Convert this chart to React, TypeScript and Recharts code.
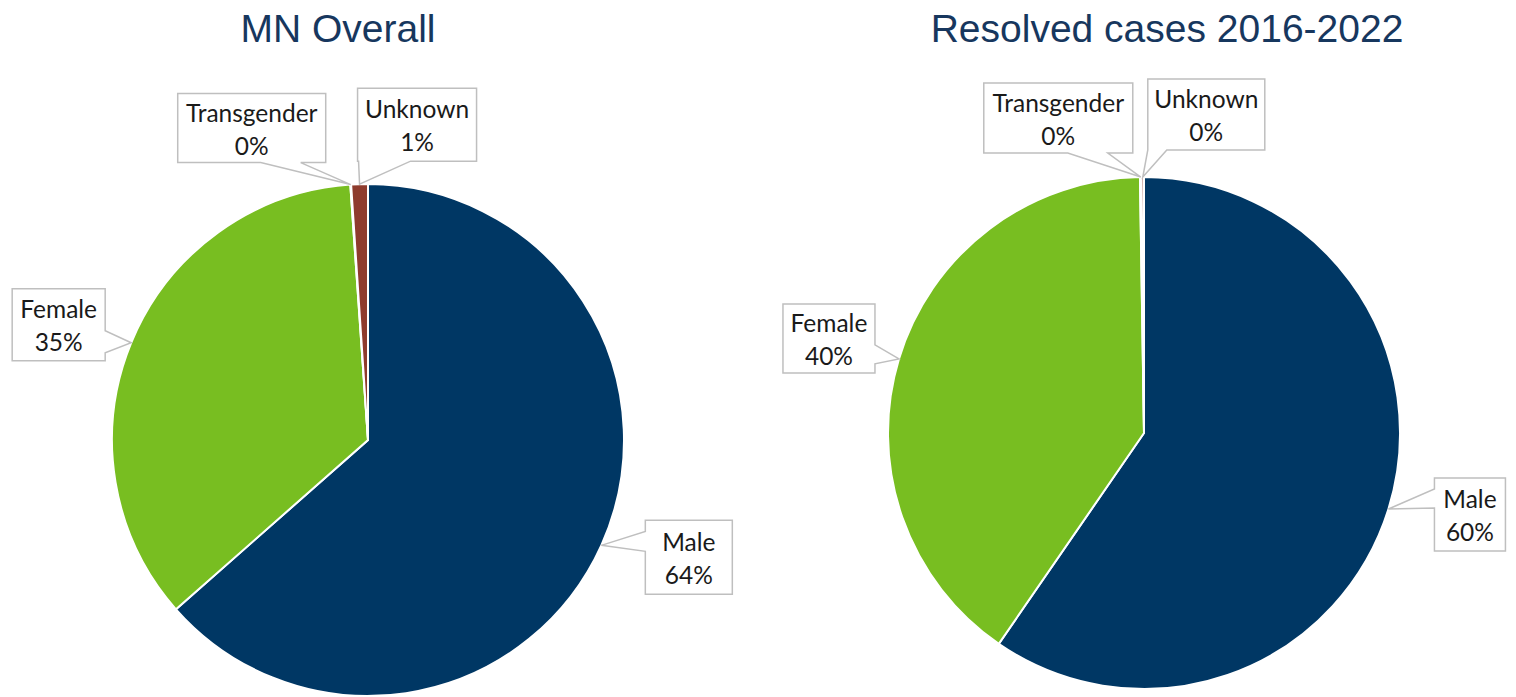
import React from 'react';
import { PieChart, Pie, Cell } from 'recharts';

// ---- data ----
const categories = ['Male', 'Female', 'Transgender', 'Unknown'];
const mnOverallValues = [63.5, 35.4, 0.05, 1.05];
const resolvedValues = [59.6, 40.15, 0.1, 0.15];
const chartTitles = ['MN Overall', 'Resolved cases 2016-2022'];

// ---- styles ----
const sliceColors = ['#003764', '#78BE21', '#8E3B2D', '#8E3B2D'];
const titleColor = '#17375E';
const labelFont = 'Lato, "Open Sans", sans-serif';

type Callout = { dx: number; dy: number; w: number; h: number; side: 'left' | 'right' | 'bottom'; b1: number; b2: number };

// callout box placement relative to the slice's outer mid-point
const leftLayout: Callout[] = [
  { dx: 44, dy: -25, w: 87, h: 74, side: 'left', b1: 11, b2: 31 },
  { dx: -119, dy: -54, w: 93, h: 72, side: 'right', b1: 42, b2: 64 },
  { dx: -173, dy: -91, w: 148, h: 69, side: 'bottom', b1: 83, b2: 123 },
  { dx: -2, dy: -96, w: 119, h: 73, side: 'bottom', b1: 1, b2: 53 },
];
const rightLayout: Callout[] = [
  { dx: 46, dy: -31, w: 71, h: 73, side: 'left', b1: 11, b2: 30 },
  { dx: -116, dy: -55, w: 92, h: 69, side: 'right', b1: 41, b2: 60 },
  { dx: -157, dy: -94, w: 149, h: 70, side: 'bottom', b1: 84, b2: 124 },
  { dx: 5, dy: -98, w: 117, h: 71, side: 'bottom', b1: 0, b2: 19 },
];

const RADIAN = Math.PI / 180;

const toData = (values: number[]) => categories.map((name, i) => ({ name, value: values[i] }));

function makeLabel(layout: Callout[]) {
  return (props: any) => {
    const { cx, cy, midAngle, outerRadius, percent, index, name } = props;
    const tx = cx + outerRadius * Math.cos(-midAngle * RADIAN);
    const ty = cy + outerRadius * Math.sin(-midAngle * RADIAN);
    const L = layout[index];
    const x0 = tx + L.dx;
    const y0 = ty + L.dy;
    const x1 = x0 + L.w;
    const y1 = y0 + L.h;
    let d = `M${x0},${y0} L${x1},${y0} `;
    if (L.side === 'right') d += `L${x1},${y0 + L.b1} L${tx},${ty} L${x1},${y0 + L.b2} `;
    d += `L${x1},${y1} `;
    if (L.side === 'bottom') d += `L${x0 + L.b2},${y1} L${tx},${ty} L${x0 + L.b1},${y1} `;
    d += `L${x0},${y1} `;
    if (L.side === 'left') d += `L${x0},${y0 + L.b2} L${tx},${ty} L${x0},${y0 + L.b1} `;
    d += 'Z';
    const mx = (x0 + x1) / 2;
    const my = (y0 + y1) / 2;
    return (
      <g key={`lbl-${index}`}>
        <path d={d} fill="#ffffff" stroke="#BFBFBF" strokeWidth={1.5} />
        <text x={mx} y={my - 16} textAnchor="middle" dominantBaseline="central" fontFamily={labelFont} fontSize={24.5} fill="#1a1a1a">
          {name}
        </text>
        <text x={mx} y={my + 17} textAnchor="middle" dominantBaseline="central" fontFamily={labelFont} fontSize={24.5} fill="#1a1a1a">
          {`${Math.round(percent * 100)}%`}
        </text>
      </g>
    );
  };
}

export default function App() {
  return (
    <div style={{ position: 'absolute', left: 0, top: 0, width: 1516, height: 697, background: '#fff' }}>
      <PieChart width={1516} height={697} margin={{ top: 0, right: 0, bottom: 0, left: 0 }}>
        <Pie
          data={toData(mnOverallValues)}
          dataKey="value"
          nameKey="name"
          cx={368}
          cy={440}
          outerRadius={256}
          startAngle={90}
          endAngle={-270}
          stroke="#ffffff"
          strokeWidth={2}
          label={makeLabel(leftLayout)}
          labelLine={false}
          isAnimationActive={false}
        >
          {categories.map((c, i) => (
            <Cell key={c} fill={sliceColors[i]} />
          ))}
        </Pie>
        <Pie
          data={toData(resolvedValues)}
          dataKey="value"
          nameKey="name"
          cx={1144}
          cy={433}
          outerRadius={256}
          startAngle={90}
          endAngle={-270}
          stroke="#ffffff"
          strokeWidth={2}
          label={makeLabel(rightLayout)}
          labelLine={false}
          isAnimationActive={false}
        >
          {categories.map((c, i) => (
            <Cell key={c} fill={sliceColors[i]} />
          ))}
        </Pie>
      </PieChart>
      <svg width={1516} height={60} style={{ position: 'absolute', left: 0, top: 0, pointerEvents: 'none' }}>
        <text x={338} y={42} textAnchor="middle" fontFamily='"Liberation Sans", Arial, sans-serif' fontSize={39} fill={titleColor}>
          {chartTitles[0]}
        </text>
        <text x={1167} y={42} textAnchor="middle" fontFamily='"Liberation Sans", Arial, sans-serif' fontSize={39} fill={titleColor}>
          {chartTitles[1]}
        </text>
      </svg>
    </div>
  );
}
